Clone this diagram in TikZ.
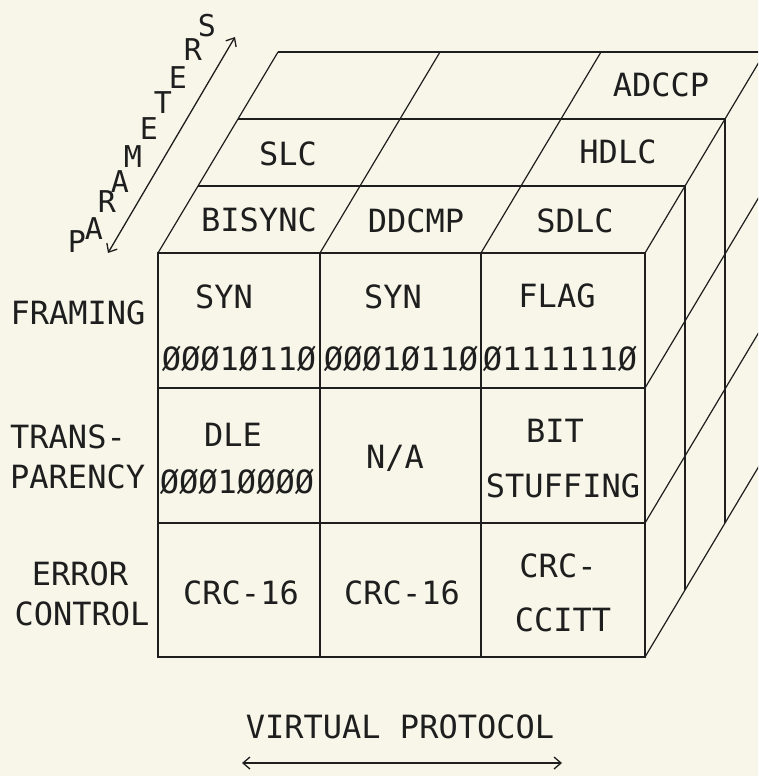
\documentclass[tikz,border=0pt]{standalone}
\usepackage{fontspec}
\newfontfamily\plotfont{DejaVu Sans Mono}
\usetikzlibrary{arrows.meta}
\definecolor{paper}{RGB}{247,246,233}
\definecolor{ink}{RGB}{30,30,30}
\begin{document}
\begin{tikzpicture}[x=1pt,y=-1pt,
  heavy/.style={draw=ink,line width=1.7pt},
  light/.style={draw=ink,line width=1.2pt},
  lbl/.style={inner sep=0pt,font=\plotfont\fontsize{32}{32}\selectfont,text=ink},
  plbl/.style={inner sep=0pt,font=\plotfont\fontsize{30}{30}\selectfont,text=ink},
  arr/.style={draw=ink,line width=1.3pt,{Straight Barb[length=7pt,width=12pt]}-{Straight Barb[length=7pt,width=12pt]}}]
\useasboundingbox (0,0) rectangle (758,776);
\fill[paper] (0,0) rectangle (758,776);
\begin{scope}
\clip (0,0) rectangle (758,776);
% front face
\draw[heavy] (158,253) rectangle (645,657);
\draw[heavy] (158,388) -- (645,388);
\draw[heavy] (158,523) -- (645,523);
\draw[light] (320,253) -- (320,657);
\draw[light] (481,253) -- (481,657);
% top horizontals (back layers)
\foreach \k in {1,2,3}
  \draw[heavy] ({158+40*\k},{253-67*\k}) -- ({645+40*\k},{253-67*\k});
% top diagonals
\foreach \x in {158,320,481,645}
  \draw[light] (\x,253) -- ({\x+120},52);
% right verticals
\foreach \k in {1,2,3}
  \draw[light] ({645+40*\k},{253-67*\k}) -- ({645+40*\k},{657-67*\k});
% right diagonals
\foreach \y in {388,523,657}
  \draw[light] (645,\y) -- (765,{\y-201});
\end{scope}
% top labels
\node[lbl] (bisync) at (259,220) {BISYNC};
\node[lbl] (ddcmp) at (416,221) {DDCMP};
\node[lbl] (sdlc) at (575,221) {SDLC};
\node[lbl] (slc) at (288,154) {SLC};
\node[lbl] (hdlc) at (618,152) {HDLC};
\node[lbl] (adccp) at (661,85) {ADCCP};
% row labels
\node[lbl] (framing) at (78,313) {FRAMING};
\node[lbl,anchor=west] (trans) at (10,437) {TRANS-};
\node[lbl,anchor=west] (parency) at (10,477) {PARENCY};
\node[lbl] (error) at (80,574) {ERROR};
\node[lbl] (control) at (82,614) {CONTROL};
% cells row 1
\node[lbl] (syna) at (224,297) {SYN};
\node[lbl] (bitsa) at (239,359) {ØØØ1Ø11Ø};
\node[lbl] (synb) at (393,297) {SYN};
\node[lbl] (bitsb) at (401,359) {ØØØ1Ø11Ø};
\node[lbl] (flag) at (557,296) {FLAG};
\node[lbl] (bitsc) at (560,359) {Ø111111Ø};
% cells row 2
\node[lbl] (dle) at (233,435) {DLE};
\node[lbl] (bitsd) at (237,482) {ØØØ1ØØØØ};
\node[lbl] (na) at (395,458) {N/A};
\node[lbl] (bit) at (555,431) {BIT};
\node[lbl] (stuffing) at (563,486) {STUFFING};
% cells row 3
\node[lbl] (crca) at (241,593) {CRC-16};
\node[lbl] (crcb) at (402,593) {CRC-16};
\node[lbl] (crcc) at (558,566) {CRC-};
\node[lbl] (ccitt) at (563,620) {CCITT};
% PARAMETERS
\node[plbl] (p1) at (77,242) {P};
\node[plbl] (p2) at (94,229) {A};
\node[plbl] (p3) at (107,202) {R};
\node[plbl] (p4) at (120,182) {A};
\node[plbl] (p5) at (133,157) {M};
\node[plbl] (p6) at (149,129) {E};
\node[plbl] (p7) at (163,103) {T};
\node[plbl] (p8) at (178,78) {E};
\node[plbl] (p9) at (193,50) {R};
\node[plbl] (p10) at (207,26) {S};
\coordinate (pa) at (108,253);
\coordinate (pb) at (235,37);
\draw[arr] (pa) -- (pb);
% VIRTUAL PROTOCOL
\node[lbl] (vp) at (400,727) {VIRTUAL PROTOCOL};
\coordinate (va) at (242,763);
\coordinate (vb) at (562,763);
\draw[arr] (va) -- (vb);
\end{tikzpicture}
\end{document}
